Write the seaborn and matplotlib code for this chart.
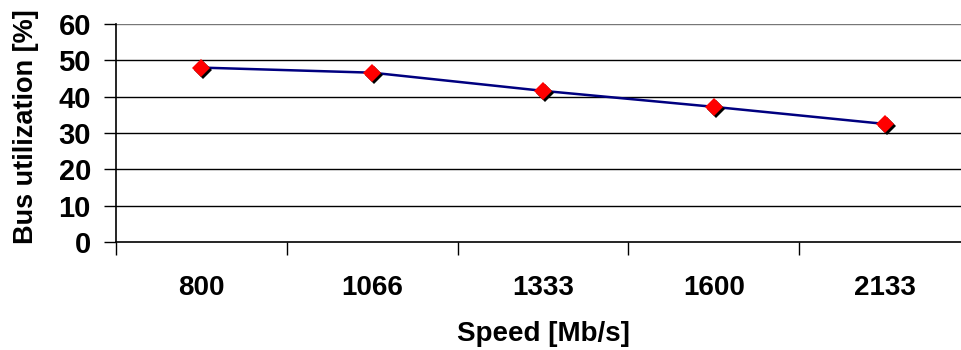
import matplotlib
matplotlib.use("Agg")
import matplotlib.pyplot as plt
import matplotlib.transforms as mtransforms
import seaborn as sns
import pandas as pd

speeds = ["800", "1066", "1333", "1600", "2133"]
utilization = [48.0, 46.6, 41.6, 37.2, 32.5]
y_ticks = [0, 10, 20, 30, 40, 50, 60]

sns.set_theme(style="white")
plt.rcParams['font.family'] = ['Liberation Sans', 'DejaVu Sans']
plt.rcParams['text.color'] = 'black'
plt.rcParams['axes.labelcolor'] = 'black'
plt.rcParams['xtick.color'] = 'black'
plt.rcParams['ytick.color'] = 'black'

df = pd.DataFrame({"speed": speeds, "util": utilization, "pos": range(len(speeds))})

fig = plt.figure(figsize=(9.62, 3.5), dpi=100)
ax = fig.add_axes([116/962, 1-242/350, (970-116)/962, (242-24)/350])

sns.lineplot(data=df, x="pos", y="util", ax=ax, color="#000080", lw=1.8, zorder=3)
shadow = mtransforms.offset_copy(ax.transData, fig=fig, x=2, y=-2, units='dots')
ax.plot(df["pos"], df["util"], linestyle="none", marker="D", ms=9.5, color="black",
        markeredgewidth=0, transform=shadow, zorder=4)
ax.plot(df["pos"], df["util"], linestyle="none", marker="D", ms=9.5, color="#FF0000",
        markeredgewidth=0, zorder=5)

ax.set_xlim(-0.5, len(speeds) - 0.5)
ax.set_ylim(0, 60)
ax.set_yticks(y_ticks)
ax.set_yticklabels([str(t) for t in y_ticks], fontsize=21, fontweight="bold")
ax.set_xticks(range(len(speeds)))
ax.set_xticklabels(speeds, fontsize=20, fontweight="bold")
ax.set_xticks([i - 0.5 for i in range(len(speeds) + 1)], minor=True)
ax.tick_params(axis="x", which="major", length=0, pad=24)
ax.tick_params(axis="x", which="minor", length=9, width=1, color="black", direction="out", bottom=True)
ax.tick_params(axis="y", length=9, width=1, color="black", direction="out", left=True, pad=9)

for t in y_ticks[1:]:
    ax.axhline(t, color="black" if t < 60 else "#777777", lw=1, zorder=1)

for s in ["top", "right"]:
    ax.spines[s].set_visible(False)
for s in ["left", "bottom"]:
    ax.spines[s].set_color("black")
    ax.spines[s].set_linewidth(1.2)

ax.set_xlabel("Speed [Mb/s]", fontsize=20, fontweight="bold", labelpad=14)
ax.set_ylabel("Bus utilization [%]", fontsize=19.5, fontweight="bold")
ax.yaxis.set_label_coords((39 - 116) / 854, (242 - 127) / 218)

fig.savefig("out.png", dpi=100)
